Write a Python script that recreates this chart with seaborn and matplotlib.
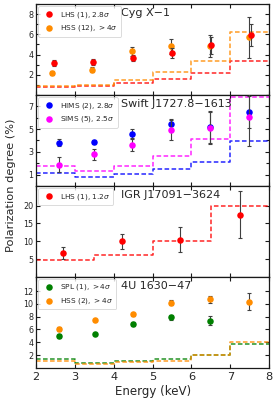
import numpy as np
import seaborn as sns
import matplotlib.pyplot as plt
from matplotlib.ticker import MultipleLocator

sns.set_theme(style="ticks")
plt.rcParams["font.family"] = ["DejaVu Sans"]

# --- Cyg X-1 ---
cyg_lhs_e = [2.46, 3.47, 4.49, 5.49, 6.51, 7.53]
cyg_lhs_pd = [3.13, 3.23, 3.7, 4.19, 4.9, 5.93]
cyg_lhs_err = [0.3, 0.3, 0.3, 0.5, 0.8, 1.05]
cyg_hss_e = [2.42, 3.44, 4.47, 5.47, 6.47, 7.47]
cyg_hss_pd = [2.22, 2.48, 4.32, 4.8, 4.83, 5.7]
cyg_hss_err = [0.2, 0.25, 0.45, 0.7, 1.1, 2.05]
cyg_edges = [2, 3, 4, 5, 6, 7, 8]
cyg_lhs_mdp = [0.8, 0.9, 1.2, 1.6, 2.15, 3.35]
cyg_hss_mdp = [0.92, 1.03, 1.5, 2.3, 3.35, 6.2]

# --- Swift J1727.8-1613 ---
sw_e = [2.6, 3.5, 4.48, 5.48, 6.47, 7.49]
sw_hims_pd = [3.79, 3.85, 4.58, 5.42, 5.15, 6.47]
sw_hims_err = [0.3, 0.2, 0.4, 0.5, 1.4, 1.4]
sw_sims_pd = [1.87, 2.78, 3.62, 4.93, 5.1, 6.1]
sw_sims_err = [0.64, 0.46, 0.55, 0.85, 1.4, 2.6]
sw_edges = [2, 3, 4, 5, 6, 7, 8]
sw_hims_mdp = [1.17, 0.8, 1.06, 1.47, 2.13, 3.94]
sw_sims_mdp = [1.76, 1.29, 1.76, 2.63, 4.14, 7.8]

# --- IGR J17091-3624 ---
igr_e = [2.7, 4.2, 5.7, 7.25]
igr_pd = [6.8, 9.95, 10.5, 17.5]
igr_err = [1.7, 2.2, 3.4, 6.6]
igr_edges = [2, 3.5, 5, 6.5, 8]
igr_mdp = [4.7, 6.26, 10.0, 20.0]

# --- 4U 1630-47 ---
u_e = [2.6, 3.52, 4.49, 5.48, 6.47, 7.48]
u_spl_pd = [5.03, 5.33, 6.87, 7.9, 7.4]
u_spl_err = [0.3, 0.2, 0.25, 0.4, 0.7]
u_hss_pd = [6.1, 7.5, 8.4, 10.15, 10.7, 10.35]
u_hss_err = [0.3, 0.2, 0.25, 0.4, 0.6, 1.35]
u_edges = [2, 3, 4, 5, 6, 7, 8]
u_spl_mdp = [1.33, 0.82, 1.07, 1.33, 1.95, 3.7]
u_hss_mdp = [1.07, 0.67, 0.87, 1.13, 2.0, 4.05]

panels = [
    {
        "name": "Cyg X\u22121", "ylim": (0, 9), "minor": 1, "ticks": [2, 4, 6, 8],
        "series": [
            ("LHS (1), 2.8$\\sigma$", "red", cyg_lhs_e, cyg_lhs_pd, cyg_lhs_err, cyg_edges, cyg_lhs_mdp, 4),
            ("HSS (12), $>4\\sigma$", "darkorange", cyg_hss_e, cyg_hss_pd, cyg_hss_err, cyg_edges, cyg_hss_mdp, 3),
        ],
    },
    {
        "name": "Swift J1727.8\u22121613", "ylim": (0, 8), "minor": 1, "ticks": [1, 3, 5, 7],
        "series": [
            ("HIMS (2), 2.8$\\sigma$", "blue", sw_e, sw_hims_pd, sw_hims_err, sw_edges, sw_hims_mdp, 3),
            ("SIMS (5), 2.5$\\sigma$", "magenta", sw_e, sw_sims_pd, sw_sims_err, sw_edges, sw_sims_mdp, 4),
        ],
    },
    {
        "name": "IGR J17091\u22123624", "ylim": (0, 25.5), "minor": None, "ticks": [5, 10, 15, 20],
        "series": [
            ("LHS (1), 1.2$\\sigma$", "red", igr_e, igr_pd, igr_err, igr_edges, igr_mdp, 4),
        ],
    },
    {
        "name": "4U 1630\u221247", "ylim": (0, 14.2), "minor": None, "ticks": [2, 4, 6, 8, 10, 12],
        "series": [
            ("SPL (1), $>4\\sigma$", "green", u_e[:5], u_spl_pd, u_spl_err, u_edges, u_spl_mdp, 3),
            ("HSS (2), $>4\\sigma$", "darkorange", u_e, u_hss_pd, u_hss_err, u_edges, u_hss_mdp, 4),
        ],
    },
]

fig, axes = plt.subplots(4, 1, sharex=True, figsize=(2.78, 4.03), dpi=100)
fig.subplots_adjust(left=0.13, right=0.968, top=0.99, bottom=0.087, hspace=0)

for ax, p in zip(axes, panels):
    for label, color, e, pd_, err, edges, mdp, z in p["series"]:
        # MDP step line
        ax.step(edges, list(mdp) + [mdp[-1]], where="post", color=color,
                ls=(0, (3, 1.6)), lw=1.1, alpha=0.85, zorder=2)
        ax.errorbar(e, pd_, yerr=err, fmt="none", ecolor="0.25", elinewidth=0.8,
                    capsize=1.5, capthick=0.8, zorder=z)
        sns.scatterplot(x=e, y=pd_, ax=ax, color=color, s=22, linewidth=0,
                        label=label, zorder=z + 0.5)
    ax.set_xlim(2, 8)
    ax.set_ylim(*p["ylim"])
    ax.set_yticks(p["ticks"])
    if p["minor"]:
        ax.yaxis.set_minor_locator(MultipleLocator(p["minor"]))
    ax.xaxis.set_major_locator(MultipleLocator(1))
    ax.tick_params(axis="both", which="both", direction="in", top=True, right=True,
                   length=3, width=0.8, color="k")
    ax.tick_params(axis="y", which="minor", length=2)
    ax.tick_params(axis="y", labelsize=5.8, pad=2)
    ax.tick_params(axis="x", labelsize=8.2, pad=3)
    for s in ax.spines.values():
        s.set_color("k")
        s.set_linewidth(0.9)
    ax.set_ylabel("")
    ax.text(0.365, 0.9, p["name"], transform=ax.transAxes, fontsize=8, va="center", ha="left")
    leg = ax.legend(loc="upper left", fontsize=5.3, borderaxespad=0.3, handletextpad=0.5,
                    borderpad=0.45, labelspacing=0.5, markerscale=1.0, frameon=True)
    leg.get_frame().set_edgecolor("0.8")
    leg.get_frame().set_linewidth(0.6)

axes[-1].set_xlabel("Energy (keV)", fontsize=8.5, labelpad=2)
fig.text(0.04, 0.54, "Polarization degree (%)", rotation=90, fontsize=8.2, va="center", ha="center")

plt.savefig("out.png", dpi=100)
